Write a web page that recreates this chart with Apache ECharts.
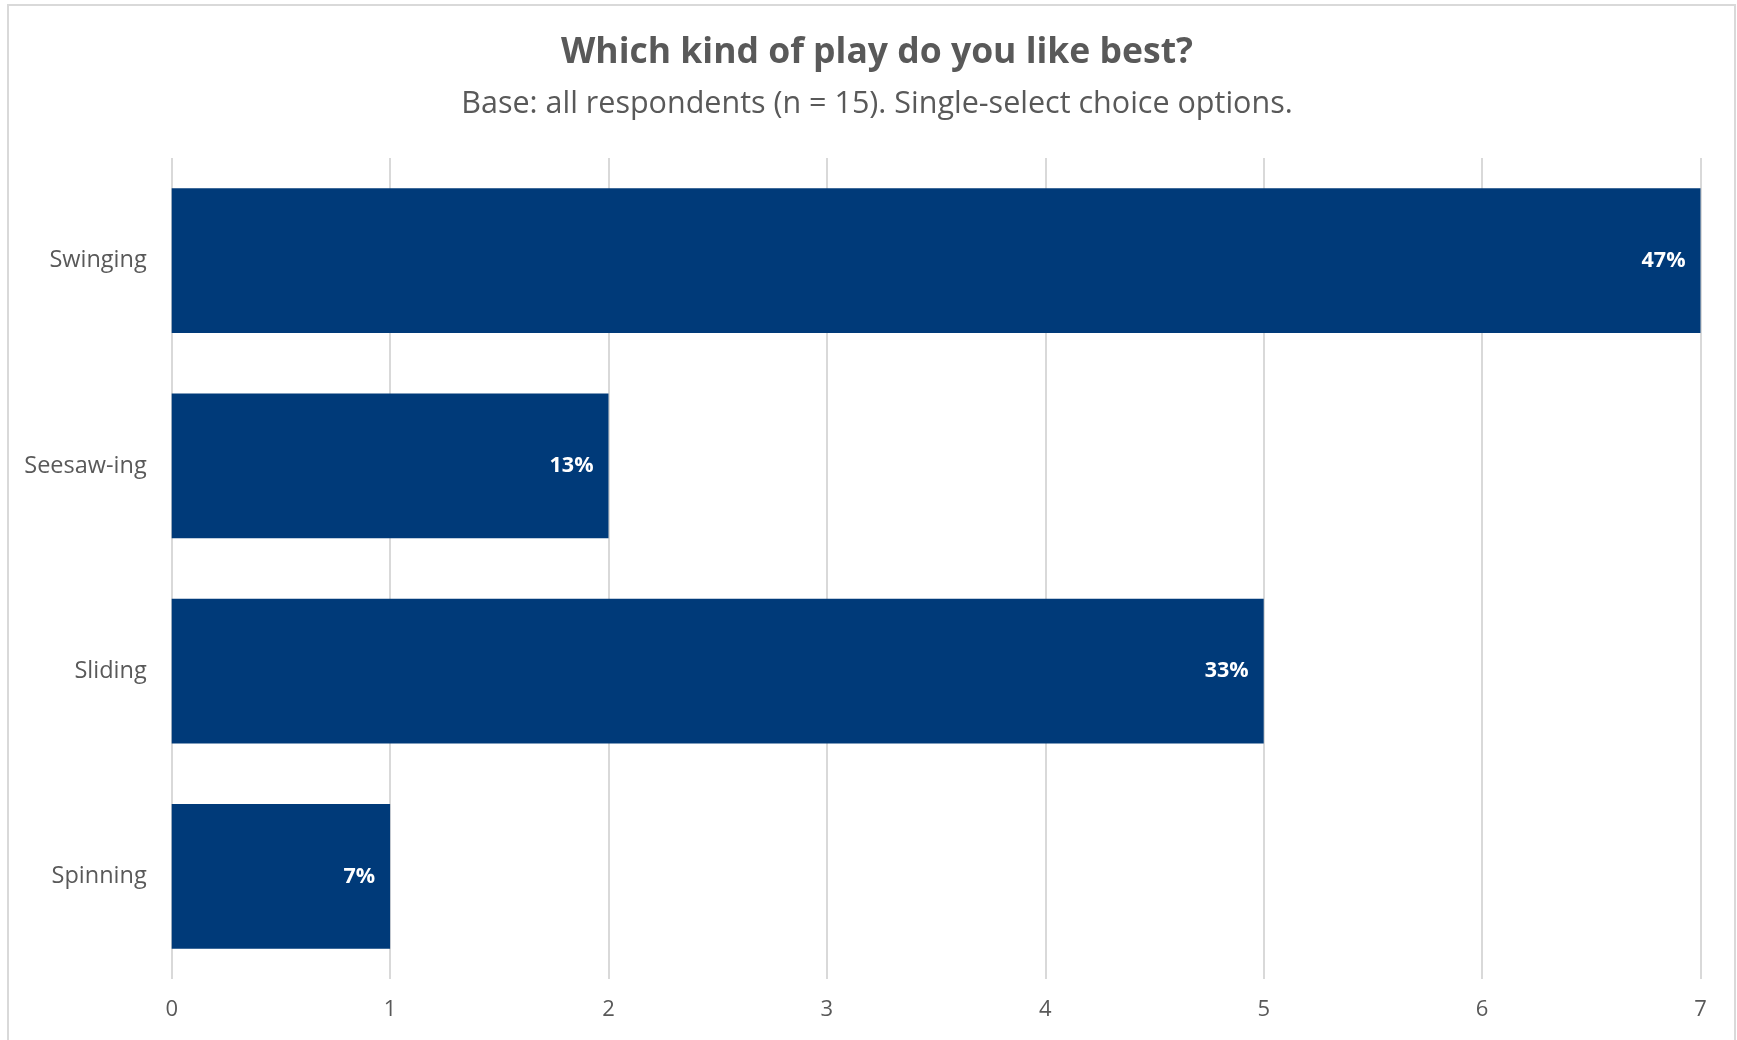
<!DOCTYPE html>
<html>
<head>
<meta charset="utf-8">
<script src="https://cdn.jsdelivr.net/npm/echarts@6/dist/echarts.min.js"></script>
<style>
  html, body { margin: 0; padding: 0; background: #ffffff; }
  #chart { width: 1737px; height: 1040px; }
</style>
</head>
<body>
<div id="chart"></div>
<script>
// Survey: favourite kind of play (single-select, n = 15)
const categories = ['Swinging', 'Seesaw-ing', 'Sliding', 'Spinning'];
const counts = [7, 2, 5, 1];
const respondents = 15;
const xTicks = [0, 1, 2, 3, 4, 5, 6, 7];

const FONT = '"Open Sans", "Noto Sans", sans-serif';
const chart = echarts.init(document.getElementById('chart'), null, { renderer: 'canvas' });

chart.setOption({
  backgroundColor: '#ffffff',
  animation: false,
  graphic: [{
    type: 'rect',
    shape: { x: 8, y: 5, width: 1727, height: 1040 },
    style: { fill: 'none', stroke: '#d9d9d9', lineWidth: 2 },
    silent: true,
    z: -1
  }],
  title: [{
    text: 'Which kind of play do you like best?',
    left: 872,
    top: 30,
    textAlign: 'center',
    textStyle: { fontFamily: FONT, fontSize: 35.5, fontWeight: 'bold', color: '#595959' }
  }, {
    text: 'Base: all respondents (n = ' + respondents + '). Single-select choice options.',
    left: 872,
    top: 84,
    textAlign: 'center',
    textStyle: { fontFamily: FONT, fontSize: 30.5, fontWeight: 'normal', color: '#595959' }
  }],
  grid: { left: 171.7, right: 36.5, top: 158, bottom: 61, containLabel: false },
  xAxis: {
    type: 'value',
    min: xTicks[0],
    max: xTicks[xTicks.length - 1],
    interval: 1,
    axisLine: { show: false },
    axisTick: { show: false },
    axisLabel: { fontFamily: FONT, fontSize: 22, color: '#595959', margin: 20 },
    splitLine: { show: true, lineStyle: { color: '#d9d9d9', width: 2 } }
  },
  yAxis: {
    type: 'category',
    data: categories,
    inverse: true,
    axisLine: { show: false },
    axisTick: { show: false },
    axisLabel: { fontFamily: FONT, fontSize: 23.5, color: '#595959', margin: 25 }
  },
  series: [{
    type: 'bar',
    data: counts,
    barCategoryGap: '29.5%',
    itemStyle: { color: '#003a79' },
    label: {
      show: true,
      position: 'insideRight',
      distance: 15,
      formatter: p => Math.round(p.value / respondents * 100) + '%',
      fontFamily: FONT,
      fontSize: 21.5,
      fontWeight: 'bold',
      color: '#ffffff'
    }
  }]
});
</script>
</body>
</html>
